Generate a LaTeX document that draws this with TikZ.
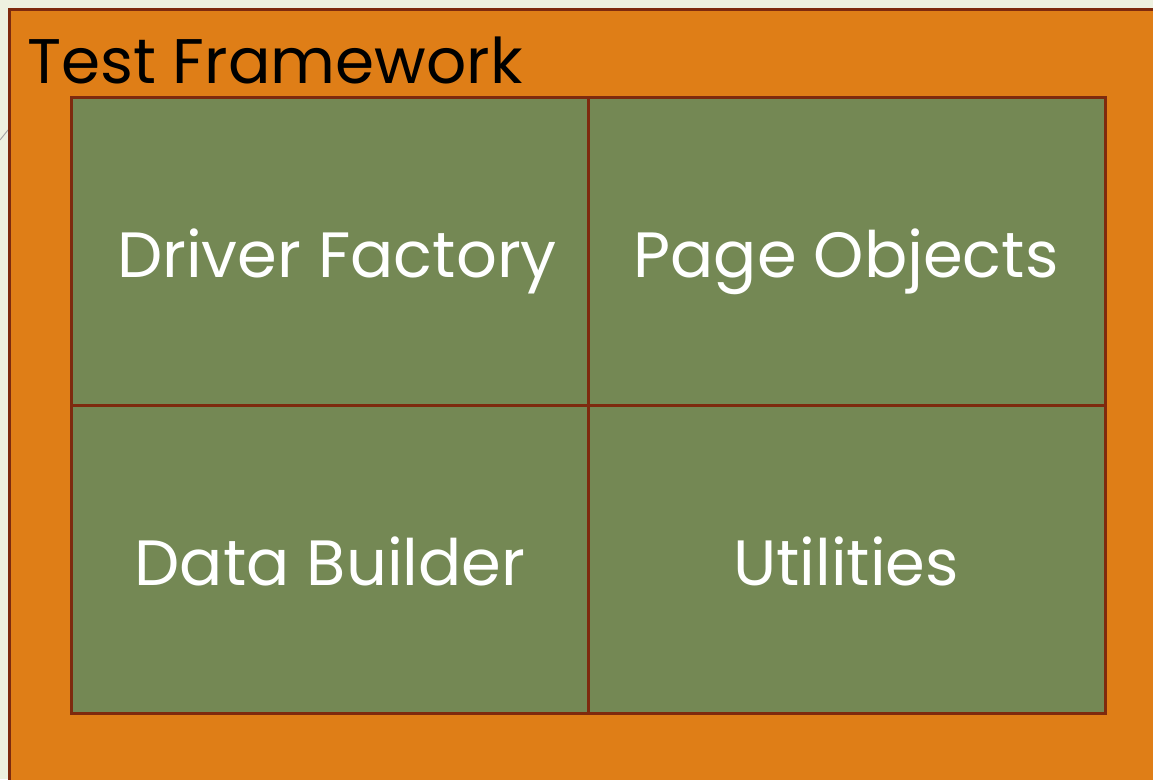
\documentclass[tikz,border=0pt]{standalone}
\usepackage{fontspec}
\setmainfont{Poppins}
\definecolor{bgc}{HTML}{EEF1E0}
\definecolor{orangec}{HTML}{DF7E17}
\definecolor{greenc}{HTML}{748854}
\definecolor{borderc}{HTML}{7E2A0E}
\begin{document}
\begin{tikzpicture}[x=1pt,y=-1pt,
  cell/.style={draw=borderc,line width=2.6pt,fill=greenc,minimum width=517pt,minimum height=308pt,anchor=north west,inner sep=0pt},
  celltext/.style={text=white,font=\fontsize{64}{66}\selectfont,inner sep=0pt,anchor=base},
]
\useasboundingbox (0,0) rectangle (1153,779);
\fill[bgc] (0,0) rectangle (1153,779);
\draw[gray!70,line width=1pt] (0,140) -- (8,130);
\node[draw=borderc,line width=2.6pt,fill=orangec,minimum width=1160pt,minimum height=790pt,anchor=north west,inner sep=0pt] (frame) at (8,8) {};
\node[anchor=base west,font=\fontsize{63}{65}\selectfont,inner sep=0pt] (title) at (27,83) {Test Framework};
\node[cell] (df) at (70,96) {};
\node[cell] (po) at (587,96) {};
\node[cell] (db) at (70,404) {};
\node[cell] (ut) at (587,404) {};
\node[celltext] (dft) at (337,277) {Driver Factory};
\node[celltext] (pot) at (846,277) {Page Objects};
\node[celltext] (dbt) at (330,585) {Data Builder};
\node[celltext] (utt) at (846,585) {Utilities};
\end{tikzpicture}
\end{document}
